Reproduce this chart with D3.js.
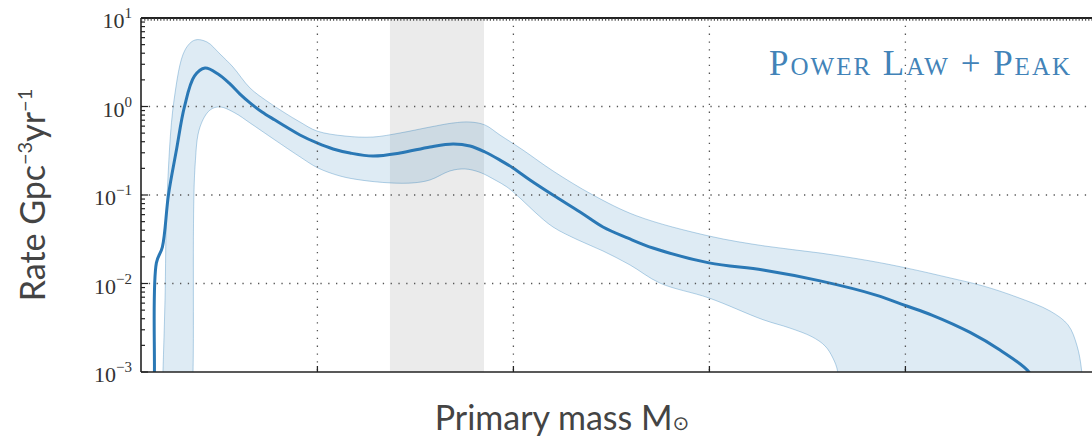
<!DOCTYPE html>
<html>
<head>
<meta charset="utf-8">
<script src="https://cdn.jsdelivr.net/npm/d3@7"></script>
<style>
  html, body { margin: 0; padding: 0; background: #fff; }
  svg { display: block; }
</style>
</head>
<body>
<div id="chart"></div>
<script>
// median rate curve (mass in Msun, rate in Gpc^-3 yr^-1)
const massMedian = [3.35, 3.37, 3.57, 4.18, 4.8, 5.61, 6.43, 7.45, 8.53, 9.86, 11.08, 12.1, 13.12, 14.35, 15.67, 17.0, 18.22, 19.96, 21.6, 23.33, 25.67, 28.43, 31.5, 33.84, 35.57, 37.1, 38.63, 39.96, 41.69, 44.04, 46.8, 49.14, 51.7, 54.24, 59.96, 65.47, 71.3, 77.0, 80.06, 82.7, 86.6, 89.65, 92.6, 93.2];
const rateMedian = [0.0003, 0.001, 0.0171, 0.0258, 0.1, 0.32, 0.99, 2.2, 2.72, 2.33, 1.8, 1.38, 1.1, 0.867, 0.703, 0.571, 0.476, 0.387, 0.331, 0.298, 0.276, 0.298, 0.349, 0.377, 0.358, 0.306, 0.248, 0.202, 0.148, 0.1, 0.0643, 0.0435, 0.0325, 0.0252, 0.0171, 0.0142, 0.0107, 0.0074, 0.0056, 0.0044, 0.0028, 0.00177, 0.001, 0.0007];

// upper edge of the credible band
const massUpper = [4.04, 4.24, 4.45, 4.65, 5.37, 6.49, 7.51, 8.73, 10.06, 11.39, 13.12, 14.86, 16.69, 18.22, 19.96, 22.8, 25.67, 28.43, 31.5, 33.84, 35.57, 37.1, 38.63, 40.98, 44.04, 48.12, 52.6, 59.96, 65.67, 71.3, 76.4, 80.06, 84.65, 87.9, 91.4, 94.76, 96.6, 97.5, 98.0, 98.2];
const rateUpper = [0.0002, 0.001, 0.0065, 0.088, 1.18, 4.35, 5.64, 5.36, 3.92, 2.79, 1.62, 1.15, 0.845, 0.668, 0.528, 0.464, 0.452, 0.502, 0.586, 0.651, 0.668, 0.618, 0.476, 0.322, 0.187, 0.1, 0.058, 0.0344, 0.0265, 0.0221, 0.018, 0.015, 0.0115, 0.0094, 0.007, 0.00489, 0.0034, 0.002, 0.001, 0.0003];

// lower edge of the credible band
const massLower = [7.1, 7.31, 7.51, 8.02, 9.04, 10.06, 11.59, 13.12, 15.67, 18.22, 20.06, 22.3, 24.35, 27.4, 29.76, 31.5, 33.53, 35.06, 36.6, 38.12, 39.35, 40.67, 42.2, 44.04, 46.6, 49.14, 51.9, 54.96, 59.96, 65.47, 68.2, 70.47, 71.8, 72.6, 73.1, 73.3];
const rateLower = [0.0002, 0.001, 0.207, 0.586, 0.912, 0.99, 0.845, 0.652, 0.418, 0.27, 0.202, 0.164, 0.148, 0.137, 0.137, 0.148, 0.187, 0.197, 0.18, 0.148, 0.123, 0.0925, 0.064, 0.0435, 0.031, 0.0233, 0.0162, 0.0101, 0.00686, 0.0039, 0.00314, 0.0025, 0.00197, 0.00144, 0.001, 0.0003];

const peakRange = [27.4, 37.0];
const xGrid = [20, 40, 60, 80];
const yTickValues = [1e-3, 1e-2, 1e-1, 1e0, 1e1];
const yTickExps = ['\u22123', '\u22122', '\u22121', '0', '1'];
const modelLabel = 'Power Law + Peak';

const W = 1092, H = 438;
const plotLeft = 141, plotTop = 18, plotBottom = 372, plotRight = 1101.4;

const svg = d3.select('#chart').append('svg')
    .attr('width', W)
    .attr('height', H);

svg.append('rect').attr('width', W).attr('height', H).attr('fill', '#fff');

const x = d3.scaleLinear().domain([2, 100]).range([plotLeft, plotRight]);
const y = d3.scaleLog().domain([1e-3, 1e1]).range([plotBottom, plotTop]);

svg.append('clipPath').attr('id', 'plot-clip')
    .append('rect')
    .attr('x', plotLeft).attr('y', plotTop)
    .attr('width', plotRight - plotLeft).attr('height', plotBottom - plotTop);

const plot = svg.append('g').attr('clip-path', 'url(#plot-clip)');

// grey peak window
plot.append('rect')
    .attr('x', x(peakRange[0]))
    .attr('y', plotTop)
    .attr('width', x(peakRange[1]) - x(peakRange[0]))
    .attr('height', plotBottom - plotTop)
    .attr('fill', '#ebebeb');

const line = d3.line()
    .x(d => x(d[0]))
    .y(d => y(d[1]))
    .curve(d3.curveCatmullRom.alpha(0.5));

const upperPts = massUpper.map((m, i) => [m, rateUpper[i]]);
const lowerPts = massLower.map((m, i) => [m, rateLower[i]]).reverse();
const bandPath = line(upperPts) + 'L' + line(lowerPts).slice(1) + 'Z';

plot.append('path')
    .attr('d', bandPath)
    .attr('fill', 'rgba(31,119,180,0.15)')
    .attr('stroke', 'rgba(31,119,180,0.32)')
    .attr('stroke-width', 1);

// dotted grid
const grid = svg.append('g')
    .attr('stroke', '#555')
    .attr('stroke-width', 1.3)
    .attr('stroke-dasharray', '1.3,6.5');

grid.selectAll('.vgrid')
    .data(xGrid)
    .enter()
    .append('line')
    .attr('class', 'vgrid')
    .attr('x1', d => x(d)).attr('x2', d => x(d))
    .attr('y1', plotTop).attr('y2', plotBottom);

grid.selectAll('.hgrid')
    .data(yTickValues.slice(1, -1))
    .enter()
    .append('line')
    .attr('class', 'hgrid')
    .attr('x1', plotLeft).attr('x2', W)
    .attr('y1', d => y(d)).attr('y2', d => y(d));

// median
plot.append('path')
    .attr('d', line(massMedian.map((m, i) => [m, rateMedian[i]])))
    .attr('fill', 'none')
    .attr('stroke', '#2a78b5')
    .attr('stroke-width', 3);

// axes frame
const frame = svg.append('g').attr('stroke', '#222');
frame.append('line').attr('x1', plotLeft).attr('x2', W).attr('y1', plotBottom).attr('y2', plotBottom).attr('stroke-width', 1.6);
frame.append('line').attr('x1', plotLeft).attr('x2', plotLeft).attr('y1', plotTop).attr('y2', plotBottom).attr('stroke-width', 1.6);
frame.append('line').attr('x1', plotLeft).attr('x2', W).attr('y1', plotTop).attr('y2', plotTop).attr('stroke-width', 1.8);
frame.append('line').attr('x1', plotLeft).attr('x2', W).attr('y1', plotTop + 1.8).attr('y2', plotTop + 1.8)
    .attr('stroke', '#555').attr('stroke-width', 2).attr('stroke-dasharray', '1.2,2');

// x ticks on the bottom
frame.selectAll('.xtick')
    .data(xGrid)
    .enter()
    .append('line')
    .attr('class', 'xtick')
    .attr('x1', d => x(d)).attr('x2', d => x(d))
    .attr('y1', plotBottom).attr('y2', plotBottom - 6)
    .attr('stroke-width', 1.3);

// y ticks (log, minor and major)
const isMajor = v => Math.abs(Math.log10(v) - Math.round(Math.log10(v))) < 1e-6;
frame.selectAll('.ytick')
    .data(y.ticks())
    .enter()
    .append('line')
    .attr('class', 'ytick')
    .attr('x1', plotLeft).attr('x2', d => plotLeft + (isMajor(d) ? 7 : 4))
    .attr('y1', d => y(d)).attr('y2', d => y(d))
    .attr('stroke-width', 1.2);

// y tick labels
const ylab = svg.append('g')
    .attr('font-family', '"Liberation Serif", "DejaVu Serif", serif')
    .attr('fill', '#333');

yTickValues.forEach((v, i) => {
    const t = ylab.append('text')
        .attr('x', 132)
        .attr('y', y(v) + 10)
        .attr('text-anchor', 'end')
        .attr('font-size', '22px');
    t.append('tspan').text('10');
    t.append('tspan').attr('dy', -10).attr('font-size', '15px').text(yTickExps[i]);
});

// model label
svg.append('text')
    .attr('x', 1072)
    .attr('y', 75)
    .attr('text-anchor', 'end')
    .attr('font-family', '"Liberation Serif", "DejaVu Serif", serif')
    .attr('font-size', '35px')
    .attr('letter-spacing', '2px')
    .style('font-variant', 'small-caps')
    .attr('fill', '#4283b8')
    .text(modelLabel);

// axis titles
const yTitle = svg.append('text')
    .attr('transform', 'translate(45,195) rotate(-90)')
    .attr('text-anchor', 'middle')
    .attr('font-family', 'Lato, "Open Sans", sans-serif')
    .attr('font-size', '34px')
    .attr('fill', '#444');
yTitle.append('tspan').text('Rate Gpc');
yTitle.append('tspan').attr('dy', -13).attr('font-size', '20px').text('\u22123');
yTitle.append('tspan').attr('dy', 13).text('yr');
yTitle.append('tspan').attr('dy', -13).attr('font-size', '20px').text('\u22121');

const xTitle = svg.append('text')
    .attr('x', 562)
    .attr('y', 430)
    .attr('text-anchor', 'middle')
    .attr('font-family', 'Lato, "Open Sans", sans-serif')
    .attr('font-size', '34px')
    .attr('fill', '#444');
xTitle.append('tspan').text('Primary mass M');
xTitle.append('tspan').attr('font-size', '20px').attr('font-family', '"DejaVu Sans", sans-serif').text('\u2299');
</script>
</body>
</html>
